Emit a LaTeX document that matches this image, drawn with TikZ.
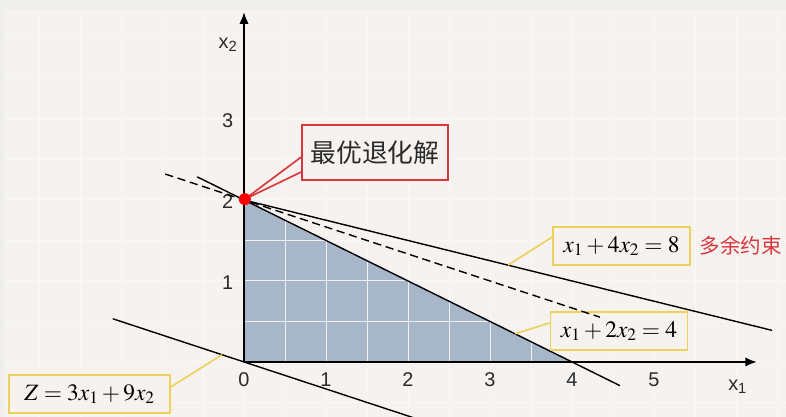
\documentclass[tikz,border=0pt]{standalone}
\usepackage{mathptmx}
\usepackage[no-math]{fontspec}
\setmainfont{Liberation Sans}
\newfontfamily\cjk{Noto Sans CJK SC}
\usetikzlibrary{arrows.meta,positioning}
\definecolor{bgpaper}{HTML}{F5F2EF}
\definecolor{bgedge}{HTML}{EFEFEB}
\definecolor{feasible}{HTML}{A8B6CA}
\definecolor{boxyellow}{HTML}{EDD15A}
\definecolor{boxred}{HTML}{D9363E}
\definecolor{inktext}{HTML}{2A2A2A}

\begin{document}
\begin{tikzpicture}[x=2.46cm, y=2.43cm,
  axis/.style={-{Latex[length=10pt,width=8pt]}, line width=1.7pt},
  cline/.style={line width=1.2pt},
  tick/.style={font=\fontsize{17}{19}\selectfont, text=inktext, inner sep=0pt},
  eqbox/.style={draw=boxyellow, line width=1.4pt, fill=bgpaper, minimum height=1.14cm, inner sep=0pt, font=\fontsize{20}{22}\selectfont},
  ylead/.style={boxyellow, line width=1.4pt},
  rlead/.style={boxred, line width=1.4pt}
]
% Background and faint grid
\fill[bgedge] (-2.976,-0.679) rectangle (6.610,4.469);
\fill[bgpaper] (-2.927,-0.679) rectangle (6.610,4.346);
\useasboundingbox (-2.976,-0.679) rectangle (6.610,4.469);
\draw[white, line width=0.8pt, opacity=0.5, step=0.5] (-2.927,-0.679) grid (6.610,4.346);

% Feasible region
\fill[feasible] (0,0) -- (0,2) -- (4,0) -- cycle;
\begin{scope}
  \clip (0,0) -- (0,2) -- (4,0) -- cycle;
  \draw[white!80!feasible, line width=0.8pt, step=0.5] (0,0) grid (4,2);
\end{scope}

% Constraint and objective lines
\begin{scope}
  \clip (-2.976,-0.679) rectangle (6.610,4.469);
  \draw[cline] (-0.57,2.285) -- (4.585,-0.2925);
  \draw[cline] (0,2) -- (6.44,0.39);
  \draw[cline] (-1.6,0.533) -- (2.2,-0.733);
\end{scope}
\coordinate (onA) at (3.22,1.195);
\coordinate (onB) at (3.305,0.348);
\coordinate (onZ) at (-0.268,0.089);

% Axes
\draw[axis] (0,0) -- (6.256,0);
\draw[axis] (0,0) -- (0,4.32);
\foreach \k in {0,...,5}
  \node[tick] at (\k,-0.222) {\k};
\foreach \k in {1,2,3}
  \node[tick] at (-0.2,{\k-0.02}) {\k};
\node[tick] (xone) at (6.02,-0.31) {x\textsubscript{1}};
\node[tick] (xtwo) at (-0.195,3.914) {x\textsubscript{2}};

% Labels
\node[eqbox, minimum width=4.11cm] (eqA) at (4.604,1.432) {$x_1+4x_2=8$};
\node[eqbox, minimum width=4.11cm] (eqB) at (4.573,0.383) {$x_1+2x_2=4$};
\node[eqbox, minimum width=4.83cm] (eqZ) at (-1.884,-0.395) {$Z=3x_1+9x_2$};
\node[font=\cjk\fontsize{17.5}{20}\selectfont, text=boxred] (redund) at (6.061,1.432) {多余约束};
\draw[ylead] ([yshift=0.27cm]eqA.west) -- (onA);
\draw[ylead] ([yshift=0.24cm]eqB.west) -- (onB);
\draw[ylead] ([yshift=0.21cm]eqZ.east) -- (onZ);

\draw[cline, dash pattern=on 7pt off 4pt] (-0.96,2.32) -- (4.34,0.553);

% Optimal degenerate point
\node[draw=boxred, line width=1.4pt, fill=bgpaper, minimum width=4.38cm, minimum height=1.65cm,
  text=inktext, font=\cjk\fontsize{22}{24}\selectfont] (degen) at (1.598,2.586) {最优退化解};
\coordinate (opt) at (0.01,2.01);
\draw[rlead] (opt) -- ([yshift=-0.135cm]degen.west);
\draw[rlead] (opt) -- ([yshift=-0.585cm]degen.west);
\fill[red] (opt) circle (0.18cm);
\end{tikzpicture}
\end{document}
